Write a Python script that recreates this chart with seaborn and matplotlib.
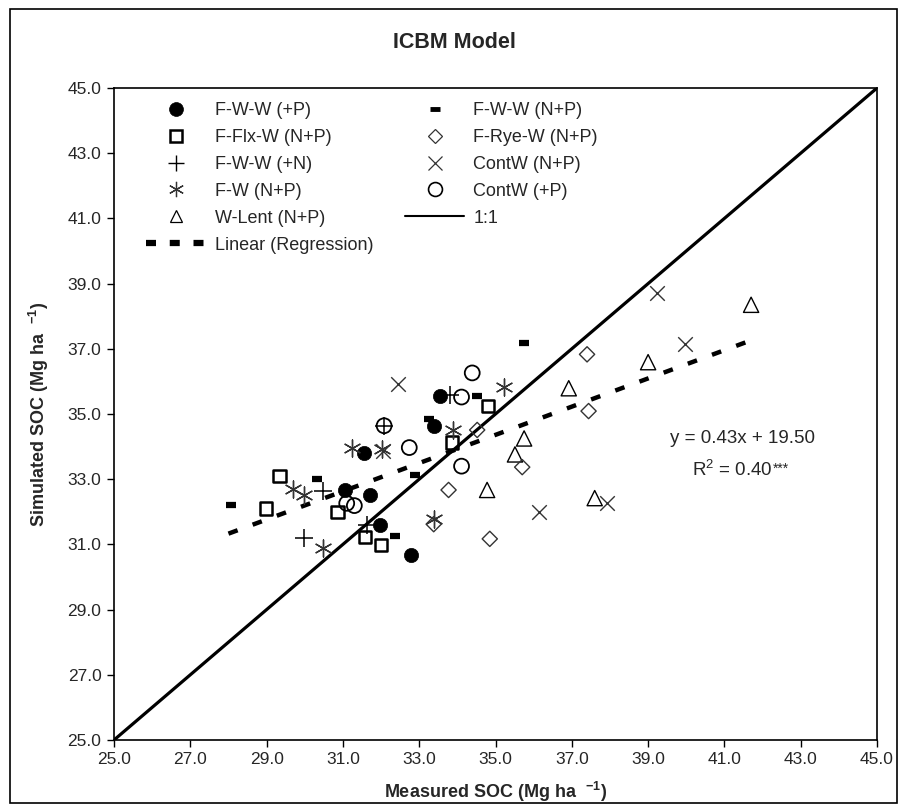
import matplotlib
matplotlib.use("Agg")
import matplotlib.pyplot as plt
import matplotlib.patches as mpatches
from matplotlib.lines import Line2D
import seaborn as sns

sns.set_theme(style="white")
plt.rcParams['font.family'] = ['Liberation Sans', 'DejaVu Sans']
plt.rcParams['mathtext.default'] = 'regular'

# ---- data (measured, simulated), Mg ha-1 ----
fww_p_x = [33.54, 33.40, 31.55, 31.05, 31.71, 31.97, 32.79]
fww_p_y = [35.54, 34.63, 33.81, 32.66, 32.53, 31.59, 30.69]

fflx_x = [34.81, 33.86, 29.34, 28.99, 30.86, 31.58, 32.00]
fflx_y = [35.25, 34.12, 33.09, 32.10, 32.00, 31.23, 30.98]

fww_n_x = [33.82, 32.08, 30.48, 29.98, 31.62]
fww_n_y = [35.57, 34.64, 32.64, 31.20, 31.59]

fw_x = [35.22, 31.23, 32.03, 33.88, 29.69, 29.98, 30.48, 33.38]
fw_y = [35.82, 33.97, 33.93, 34.51, 32.69, 32.51, 30.88, 31.78]

wlent_x = [41.70, 39.00, 36.92, 35.75, 35.51, 34.78, 37.60]
wlent_y = [38.35, 36.59, 35.79, 34.25, 33.76, 32.67, 32.42]

fww_np_x = [35.75, 34.52, 33.25, 32.88, 30.32, 28.06, 32.37]
fww_np_y = [37.17, 35.54, 34.86, 33.12, 33.01, 32.21, 31.25]

frye_x = [37.40, 37.44, 34.52, 35.70, 33.77, 33.38, 34.85]
frye_y = [36.83, 35.09, 34.51, 33.37, 32.67, 31.62, 31.17]

contw_np_x = [39.24, 39.97, 32.44, 32.05, 36.13, 37.92]
contw_np_y = [38.72, 37.14, 35.92, 33.88, 32.00, 32.26]

contw_p_x = [34.39, 34.11, 32.08, 32.74, 34.11, 31.10, 31.30]
contw_p_y = [36.26, 35.52, 34.64, 33.97, 33.40, 32.26, 32.19]

one_x = [25.0, 45.0]
one_y = [25.0, 45.0]

reg_x = [28.0, 41.7]
reg_y = [31.33, 37.26]

ticks = [25.0, 27.0, 29.0, 31.0, 33.0, 35.0, 37.0, 39.0, 41.0, 43.0, 45.0]

W, H = 909, 811
L, R, T, B = 114, 877, 88, 740
fig = plt.figure(figsize=(W / 100, H / 100), dpi=100)
ax = fig.add_axes([L / W, 1 - B / H, (R - L) / W, (B - T) / H])

# figure border
fig.patches.append(mpatches.Rectangle((10 / W, 1 - 803 / H), 887 / W, 794 / H,
                                      transform=fig.transFigure, fill=False,
                                      edgecolor='black', linewidth=1.2))

# lines
sns.lineplot(x=one_x, y=one_y, ax=ax, color='black', linewidth=2.3, zorder=2)
sns.lineplot(x=reg_x, y=reg_y, ax=ax, color='black', linewidth=3.2,
             linestyle=(0, (2.2, 3.6)), zorder=2)

groups = [
    (fww_p_x, fww_p_y, dict(marker='o', s=105, color='black', edgecolor='black', linewidth=0.5)),
    (fflx_x, fflx_y, dict(marker='s', s=80, facecolor='none', edgecolor='black', linewidth=1.8)),
    (fww_n_x, fww_n_y, dict(marker='+', s=150, color='black', linewidth=1.1)),
    (fw_x, fw_y, dict(marker=(6, 2, 0), s=150, color='#333333', linewidth=1.0)),
    (wlent_x, wlent_y, dict(marker='^', s=120, facecolor='none', edgecolor='black', linewidth=1.0)),
    (fww_np_x, fww_np_y, dict(marker='_', s=50, color='black', linewidth=4.5)),
    (frye_x, frye_y, dict(marker='D', s=60, facecolor='none', edgecolor='#333333', linewidth=1.0)),
    (contw_np_x, contw_np_y, dict(marker='x', s=110, color='#333333', linewidth=1.0)),
    (contw_p_x, contw_p_y, dict(marker='o', s=115, facecolor='none', edgecolor='black', linewidth=1.3)),
]
for gx, gy, kw in groups:
    sns.scatterplot(x=gx, y=gy, ax=ax, zorder=3, **kw)

ax.set_xlim(25, 45)
ax.set_ylim(25, 45)
ax.set_xticks(ticks)
ax.set_yticks(ticks)
ax.set_xticklabels([f"{t:.1f}" for t in ticks], fontsize=12.5)
ax.set_yticklabels([f"{t:.1f}" for t in ticks], fontsize=12.5)
ax.tick_params(axis='both', direction='out', length=5, width=1, color='black',
               bottom=True, left=True, pad=4)
for sp in ax.spines.values():
    sp.set_visible(True)
    sp.set_color('black')
    sp.set_linewidth(1.2)

ax.set_xlabel(r"Measured SOC (Mg ha  $^{-1}$)", fontsize=13, fontweight='bold', labelpad=9)
ax.set_ylabel(r"Simulated SOC (Mg ha  $^{-1}$)", fontsize=13, fontweight='bold', labelpad=12)
fig.text(0.5, 1 - 42 / H, "ICBM Model", ha='center', va='center', fontsize=15.5, fontweight='bold')

ax.text(41.47, 34.25, "y = 0.43x + 19.50", ha='center', va='center', fontsize=13.5)
t2 = ax.text(41.2, 33.29, r"R$^2$ = 0.40", ha='center', va='center', fontsize=13.5)
ax.annotate("***", xy=(1.0, 0.92), xycoords=t2, ha='left', va='top', fontsize=10)

# legend
def mk(marker, ms, mfc, mec, mew):
    return Line2D([], [], linestyle='none', marker=marker, markersize=ms,
                  markerfacecolor=mfc, markeredgecolor=mec, markeredgewidth=mew)

handles = [
    mk('o', 10, 'black', 'black', 0.5),
    mk('s', 8, 'none', 'black', 1.8),
    mk('+', 11, 'none', 'black', 1.0),
    mk((6, 2, 0), 11, 'none', '#333333', 0.9),
    mk('^', 9, 'none', 'black', 0.9),
    Line2D([], [], color='black', linewidth=4.5, linestyle=(0, (1.6, 2.2))),
    mk('_', 7, 'none', 'black', 3.5),
    mk('D', 7, 'none', '#333333', 0.9),
    mk('x', 10, 'none', '#333333', 0.9),
    mk('o', 10, 'none', 'black', 1.2),
    Line2D([], [], color='black', linewidth=1.5),
]
labels = ["F-W-W (+P)", "F-Flx-W (N+P)", "F-W-W (+N)", "F-W (N+P)", "W-Lent (N+P)",
          "Linear (Regression)", "F-W-W (N+P)", "F-Rye-W (N+P)", "ContW (N+P)",
          "ContW (+P)", "1:1"]
ax.legend(handles, labels, ncol=2, loc='upper left', bbox_to_anchor=(0.042, 0.9785),
          frameon=False, fontsize=13, handlelength=3.3, handletextpad=0.5,
          columnspacing=1.75, labelspacing=0.55, borderaxespad=0, borderpad=0)

fig.savefig("out.png", dpi=100)
